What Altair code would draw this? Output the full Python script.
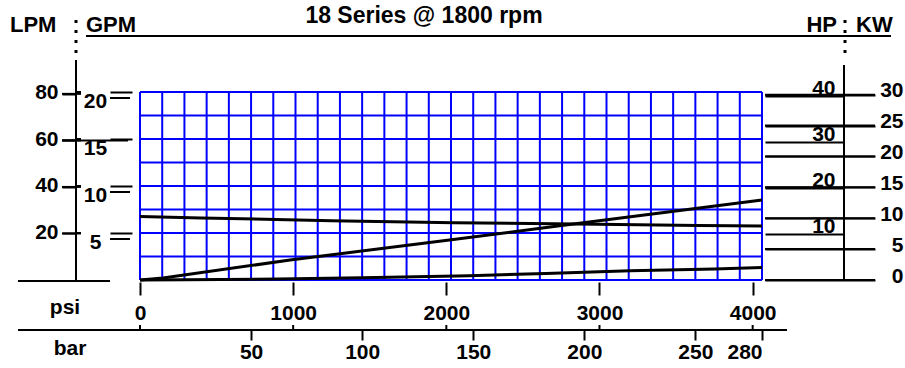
import altair as alt
import pandas as pd

FONT = "Liberation Sans"
BLUE = "#0000FF"

# ---------------- data ----------------
title_text = "18  Series @ 1800 rpm"
psi_ticks = [0, 1000, 2000, 3000, 4000]
bar_ticks = [50, 100, 150, 200, 250, 280]
gpm_ticks = [5, 10, 15, 20]
gpm_double = [20, 10, 5]
lpm_ticks = [20, 40, 60, 80]
lpm_long = [60]
hp_ticks = [10, 20, 30, 40]
kw_ticks = [0, 5, 10, 15, 20, 25, 30]
grid_bar = list(range(0, 281, 10))          # grid columns, bar
grid_gpm = [0, 2.5, 5, 7.5, 10, 12.5, 15, 17.5, 20]

flow_psi = [0, 400, 1250, 2050, 2850, 3650, 4061]
flow_gpm = [6.75, 6.6, 6.31, 6.1, 5.96, 5.8, 5.74]
hp_psi = [0, 150, 980, 2020, 2740, 3460, 4061]
hp_val = [0, 0.43, 4.34, 8.68, 11.78, 14.82, 17.35]
low_psi = [0, 300, 900, 1450, 2150, 2650, 3200, 3750, 4061]
low_gpm = [0, 0.02, 0.11, 0.25, 0.45, 0.7, 0.98, 1.17, 1.33]

BAR_MAX = 280
PSI_MAX = 4061   # = 280 bar
GPM_MAX = 20
LPM_MAX = 80.8
HP_MAX = 40.8
KW_MAX = 30.43

# ---------------- layout ----------------
X0, Y0, W, H = 140, 92, 622, 188

xbar = alt.Scale(domain=[0, BAR_MAX], nice=False, zero=False)
xpsi = alt.Scale(domain=[0, PSI_MAX], nice=False, zero=False)
ygpm = alt.Scale(domain=[0, GPM_MAX], nice=False, zero=False)
ylpm = alt.Scale(domain=[0, LPM_MAX], nice=False, zero=False)
yhp = alt.Scale(domain=[0, HP_MAX], nice=False, zero=False)
ykw = alt.Scale(domain=[0, KW_MAX], nice=False, zero=False)

one = pd.DataFrame({"k": [0]})


def ax(**kw):
    base = dict(title=None, grid=False, domain=False, labelOverlap=False,
                labelBound=False, format="d")
    base.update(kw)
    return alt.Axis(**base)


def text(s, x, y, align="center", size=21):
    return alt.Chart(one).mark_text(
        text=s, align=align, baseline="middle", font=FONT, fontSize=size,
        fontWeight="bold", color="black"
    ).encode(x=alt.value(x - X0), y=alt.value(y - Y0))


def hline(x1, x2, y, dash=None):
    kw = dict(color="black", strokeWidth=2)
    if dash:
        kw["strokeDash"] = dash
    return alt.Chart(one).mark_rule(**kw).encode(
        x=alt.value(x1 - X0), x2=alt.value(x2 - X0), y=alt.value(y - Y0))


def vline(x, y1, y2, dash=None, width=2):
    kw = dict(color="black", strokeWidth=width)
    if dash:
        kw["strokeDash"] = dash
    return alt.Chart(one).mark_rule(**kw).encode(
        x=alt.value(x - X0), y=alt.value(y1 - Y0), y2=alt.value(y2 - Y0))


# grid (bar columns) + bar axis
grid_v = alt.Chart(pd.DataFrame({"bar": grid_bar})).mark_rule(
    color=BLUE, strokeWidth=2).encode(
    x=alt.X("bar:Q", scale=xbar,
            axis=ax(orient="bottom", offset=50, values=bar_ticks, tickSize=10,
                    labelPadding=1, labelFlush=True)))

# grid rows (GPM) + GPM axis
grid_h = alt.Chart(pd.DataFrame({"gpm": grid_gpm})).mark_rule(
    color=BLUE, strokeWidth=2).encode(
    y=alt.Y("gpm:Q", scale=ygpm,
            axis=ax(orient="left", offset=8, values=gpm_ticks, tickSize=22,
                    labelAlign="center", labelPadding=15,
                    labelBaseline="middle", labelOffset=9)))

low = alt.Chart(pd.DataFrame({"psi": low_psi, "gpm": low_gpm})).mark_line(
    color="black", strokeWidth=3).encode(
    x=alt.X("psi:Q", scale=xpsi, axis=None),
    y=alt.Y("gpm:Q", scale=ygpm, axis=None))

flow = alt.Chart(pd.DataFrame({"psi": flow_psi, "gpm": flow_gpm})).mark_line(
    color="black", strokeWidth=3).encode(
    x=alt.X("psi:Q", scale=xpsi,
            axis=ax(orient="bottom", offset=2, values=psi_ticks, tickSize=13,
                    labelPadding=7, labelFlush=False)),
    y=alt.Y("gpm:Q", scale=ygpm, axis=None))

hp = alt.Chart(pd.DataFrame({"psi": hp_psi, "hp": hp_val})).mark_line(
    color="black", strokeWidth=3).encode(
    x=alt.X("psi:Q", scale=xpsi, axis=None),
    y=alt.Y("hp:Q", scale=yhp,
            axis=ax(orient="left", offset=-704, values=hp_ticks, tickSize=79,
                    labelPadding=-70, labelAlign="right",
                    labelBaseline="alphabetic", labelOffset=-1)))

psi_marks = alt.Chart(pd.DataFrame({"psi": psi_ticks})).mark_rule(
    color="black", strokeWidth=2).encode(
    x=alt.X("psi:Q", scale=xpsi, axis=None),
    y=alt.value(233), y2=alt.value(238))

kw = alt.Chart(pd.DataFrame({"kw": kw_ticks})).mark_rule(
    color="black", strokeWidth=2).encode(
    y=alt.Y("kw:Q", scale=ykw,
            axis=ax(orient="right", offset=3, values=kw_ticks, tickSize=110,
                    labelPadding=28, labelAlign="right",
                    labelBaseline="alphabetic", labelOffset=2)),
    x=alt.value(625), x2=alt.value(735))

lpm = alt.Chart(pd.DataFrame({"lpm": lpm_ticks})).mark_rule(
    color="black", strokeWidth=2).encode(
    y=alt.Y("lpm:Q", scale=ylpm,
            axis=ax(orient="left", offset=64, values=lpm_ticks, tickSize=14,
                    labelPadding=4, labelBaseline="middle", labelOffset=-1)),
    x=alt.value(-78), x2=alt.value(-59))

lpm_l = alt.Chart(pd.DataFrame({"lpm": lpm_long})).mark_rule(
    color="black", strokeWidth=2).encode(
    y=alt.Y("lpm:Q", scale=ylpm, axis=None),
    x=alt.value(-78), x2=alt.value(-12))

gpm_dbl = alt.Chart(pd.DataFrame({"gpm": gpm_double})).mark_rule(
    color="black", strokeWidth=2, yOffset=6).encode(
    y=alt.Y("gpm:Q", scale=ygpm, axis=None),
    x=alt.value(-30), x2=alt.value(-10))

gpm_small = alt.Chart(pd.DataFrame({"gpm": gpm_ticks})).mark_rule(
    color="black", strokeWidth=2).encode(
    y=alt.Y("gpm:Q", scale=ygpm, axis=None),
    x=alt.value(-64), x2=alt.value(-59))

decor = [
    text(title_text, 424, 16, size=23),
    hline(86, 891, 36),
    text("LPM", 10, 25, align="left", size=22),
    text("GPM", 86, 25, align="left", size=22),
    text("HP", 837, 25, align="right", size=22),
    text("KW", 856, 25, align="left", size=22),
    vline(76, 20, 56, dash=[3, 7], width=3),
    vline(76, 60, 281),
    vline(845, 20, 58, dash=[3, 7], width=3),
    vline(844, 65, 281),
    hline(18, 110, 281),
    hline(18, 787, 330),
    text("psi", 65, 308),
    text("bar", 70, 349),
]

chart = alt.layer(
    grid_v, grid_h, low, flow, hp, psi_marks, kw, lpm, lpm_l, gpm_dbl,
    gpm_small, *decor
).resolve_scale(
    x="independent", y="independent"
).properties(
    width=W, height=H,
    autosize=alt.AutoSizeParams(type="none"),
    padding={"left": X0, "top": Y0, "right": 905 - X0 - W, "bottom": 368 - Y0 - H},
).configure_view(
    stroke=None
).configure_axis(
    labelFont=FONT, labelFontSize=21, labelFontWeight="bold", labelColor="black",
    tickColor="black", tickWidth=2, domainColor="black", domainWidth=2,
)

chart.save("out.html", embed_options={"renderer": "svg", "actions": False})
